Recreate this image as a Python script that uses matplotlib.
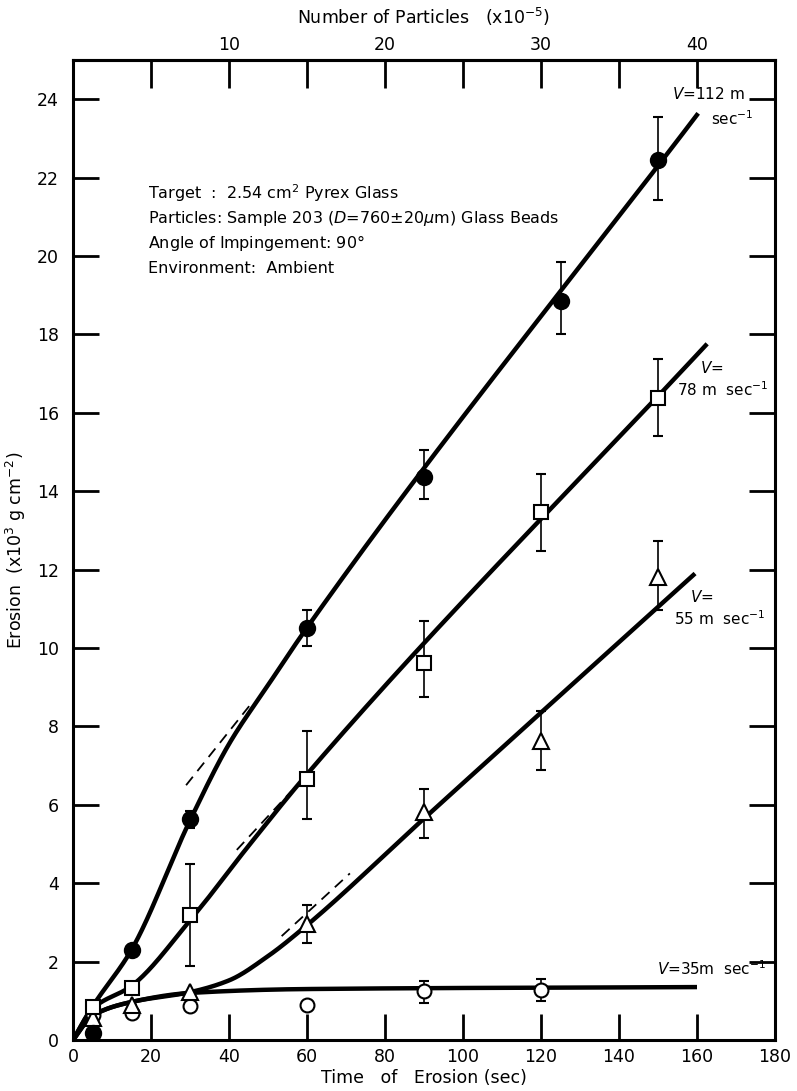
import numpy as np
import matplotlib
matplotlib.use("Agg")
import matplotlib.pyplot as plt

plt.rcParams['font.family'] = ['DejaVu Sans']
plt.rcParams['mathtext.fontset'] = 'dejavusans'

# measured points: time (s), erosion (x10^3 g cm^-2), error bar ends
t_112 = [5, 15, 30, 60, 90, 125, 150]
e_112 = [0.18, 2.3, 5.63, 10.52, 14.37, 18.85, 22.45]
lo_112 = [0.18, 2.3, 5.4, 10.04, 13.8, 18.0, 21.43]
hi_112 = [0.18, 2.3, 5.85, 10.96, 15.06, 19.85, 23.55]

t_78 = [5, 15, 30, 60, 90, 120, 150]
e_78 = [0.84, 1.32, 3.18, 6.67, 9.63, 13.48, 16.38]
lo_78 = [0.84, 1.32, 1.9, 5.65, 8.76, 12.48, 15.4]
hi_78 = [0.84, 1.32, 4.5, 7.87, 10.68, 14.45, 17.37]

t_55 = [5, 15, 30, 60, 90, 120, 150]
e_55 = [0.55, 0.9, 1.22, 2.97, 5.81, 7.64, 11.8]
lo_55 = [0.55, 0.9, 1.22, 2.47, 5.15, 6.9, 10.96]
hi_55 = [0.55, 0.9, 1.22, 3.44, 6.4, 8.4, 12.74]

t_35 = [5, 15, 30, 60, 90, 120]
e_35 = [0.65, 0.68, 0.87, 0.89, 1.25, 1.28]
lo_35 = [0.65, 0.68, 0.87, 0.89, 0.94, 1.0]
hi_35 = [0.65, 0.68, 0.87, 0.89, 1.5, 1.55]

# fitted curves (knots)
ct_112 = [0, 5, 15, 30, 40, 50, 60, 160.3]
cy_112 = [0, 0.85, 2.3, 5.6, 7.55, 9.05, 10.52, 23.64]
ct_78 = [0, 5, 15, 30, 45, 60, 162.6]
cy_78 = [0, 0.8, 1.38, 3.05, 4.95, 6.78, 17.76]
ct_55 = [0, 5, 15, 30, 40, 50, 60, 90, 159.5]
cy_55 = [0, 0.62, 0.97, 1.22, 1.52, 2.14, 2.93, 5.65, 11.9]
ct_35 = [0, 5, 15, 30, 60, 160]
cy_35 = [0, 0.62, 0.97, 1.2, 1.3, 1.35]

# dashed linear extrapolations
dt_112, dy_112 = [29, 46], [6.5, 8.62]
dt_78, dy_78 = [42, 56], [4.85, 6.35]
dt_55, dy_55 = [53.5, 71], [2.65, 4.25]


def pchip(x, y, xs):
    x = np.asarray(x, float)
    y = np.asarray(y, float)
    h = np.diff(x)
    d = np.diff(y) / h
    m = np.zeros_like(y)
    m[0], m[-1] = d[0], d[-1]
    for k in range(1, len(x) - 1):
        if d[k - 1] * d[k] > 0:
            w1 = 2 * h[k] + h[k - 1]
            w2 = h[k] + 2 * h[k - 1]
            m[k] = (w1 + w2) / (w1 / d[k - 1] + w2 / d[k])
    i = np.clip(np.searchsorted(x, xs) - 1, 0, len(x) - 2)
    s = (xs - x[i]) / h[i]
    h00 = 2 * s**3 - 3 * s**2 + 1
    h10 = s**3 - 2 * s**2 + s
    h01 = -2 * s**3 + 3 * s**2
    h11 = s**3 - s**2
    return h00 * y[i] + h10 * h[i] * m[i] + h01 * y[i + 1] + h11 * h[i] * m[i + 1]


fig = plt.figure(figsize=(7.97, 10.91), dpi=100)
ax = fig.add_axes([73 / 797, 51 / 1091, 702 / 797, 980 / 1091])

for ct, cy in [(ct_112, cy_112), (ct_78, cy_78), (ct_55, cy_55), (ct_35, cy_35)]:
    xs = np.linspace(ct[0], ct[-1], 500)
    ax.plot(xs, pchip(ct, cy, xs), color='black', lw=3.2, solid_capstyle='butt', zorder=3)

for dt, dy in [(dt_112, dy_112), (dt_78, dy_78), (dt_55, dy_55)]:
    ax.plot(dt, dy, color='black', lw=1.3, ls=(0, (6, 4)), zorder=2)

series = [
    (t_35, e_35, lo_35, hi_35, 'o', 'white', 10),
    (t_55, e_55, lo_55, hi_55, '^', 'white', 12),
    (t_78, e_78, lo_78, hi_78, 's', 'white', 10),
    (t_112, e_112, lo_112, hi_112, 'o', 'black', 11),
]
for t, e, lo, hi, mk, fc, ms in series:
    e = np.array(e)
    yerr = [e - np.array(lo), np.array(hi) - e]
    ax.errorbar(t, e, yerr=yerr, fmt=mk, mfc=fc, mec='black', mew=1.5, ms=ms,
                ecolor='black', elinewidth=1.2, capsize=3.5, capthick=1.2, zorder=4)

ax.set_xlim(0, 180)
ax.set_ylim(0, 25)
for s in ax.spines.values():
    s.set_linewidth(2.2)

ax.set_xticks(range(0, 181, 20))
ax.set_xticklabels(['0', '20', '40', '60', '80', '100', '120', '140', '160', '180'])
ax.set_yticks(range(0, 25, 2))
ax.tick_params(axis='both', direction='in', length=19, width=2, labelsize=12.5, pad=6)
ax.tick_params(axis='y', pad=10)
ax.tick_params(right=True, labelright=False)

top = ax.secondary_xaxis('top', functions=(lambda t: t / 4, lambda p: p * 4))
top.set_xticks([10, 20, 30, 40])
top.set_xticks([5, 15, 25, 35], minor=True)
top.tick_params(which='both', direction='in', length=20, width=2, labelsize=12.5, pad=4)
top.spines['top'].set_linewidth(2.2)
top.set_xlabel(r'Number of Particles   (x10$^{-5}$)', fontsize=12.5, labelpad=9)

ax.set_xlabel('Time   of   Erosion (sec)', fontsize=12.5, labelpad=2)
ax.set_ylabel(r'Erosion  (x10$^3$ g cm$^{-2}$)', fontsize=12.5)
ax.yaxis.set_label_coords(-0.064, 0.5)

notes = [
    r'Target  :  2.54 cm$^2$ Pyrex Glass',
    r'Particles: Sample 203 ($D$=760$\pm$20$\mu$m) Glass Beads',
    r'Angle of Impingement: 90$\degree$',
    'Environment:  Ambient',
]
for i, line in enumerate(notes):
    ax.text(19.2, 21.6 - i * 0.64, line, fontsize=11.5, va='center', ha='left')

ax.text(163, 24.13, r'$V$=112 m', fontsize=11, ha='center', va='center')
ax.text(169, 23.5, r'sec$^{-1}$', fontsize=11, ha='center', va='center')
ax.text(163.8, 17.15, r'$V$=', fontsize=11, ha='center', va='center')
ax.text(166.7, 16.6, r'78 m  sec$^{-1}$', fontsize=11, ha='center', va='center')
ax.text(161.3, 11.29, r'$V$=', fontsize=11, ha='center', va='center')
ax.text(165.9, 10.75, r'55 m  sec$^{-1}$', fontsize=11, ha='center', va='center')
ax.text(163.8, 1.83, r'$V$=35m  sec$^{-1}$', fontsize=11, ha='center', va='center')

fig.savefig('out.png', dpi=100)
